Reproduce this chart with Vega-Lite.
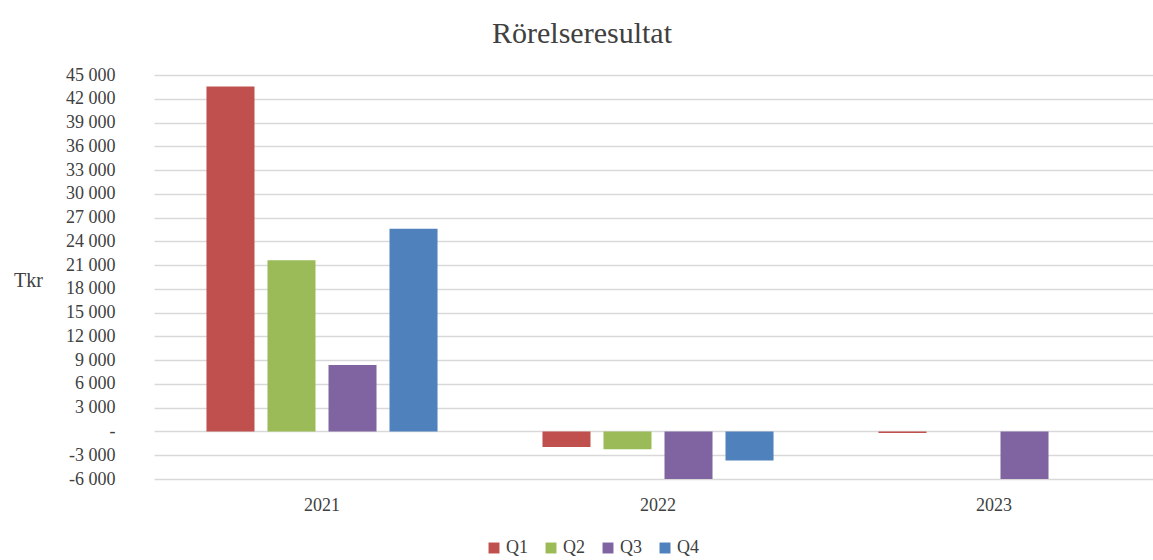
{
  "$schema": "https://vega.github.io/schema/vega-lite/v6.json",
  "autosize": {"type": "none"},
  "padding": {"left": 154, "top": 75, "right": 0, "bottom": 81},
  "width": 1008,
  "height": 404,
  "background": "white",
  "title": {
    "text": "Rörelseresultat",
    "font": "Liberation Serif",
    "fontSize": 30,
    "fontWeight": "normal",
    "color": "#404040",
    "anchor": "middle",
    "dx": -76,
    "dy": 33,
    "baseline": "bottom",
    "offset": 20
  },
  "data": {
    "values": [
      {"year": "2021", "quarter": "Q1", "value": 43550},
      {"year": "2021", "quarter": "Q2", "value": 21600},
      {"year": "2021", "quarter": "Q3", "value": 8400},
      {"year": "2021", "quarter": "Q4", "value": 25600},
      {"year": "2022", "quarter": "Q1", "value": -1950},
      {"year": "2022", "quarter": "Q2", "value": -2250},
      {"year": "2022", "quarter": "Q3", "value": -6000},
      {"year": "2022", "quarter": "Q4", "value": -3650},
      {"year": "2023", "quarter": "Q1", "value": -200},
      {"year": "2023", "quarter": "Q2", "value": 0},
      {"year": "2023", "quarter": "Q3", "value": -6000}
    ]
  },
  "mark": {"type": "bar", "clip": true},
  "encoding": {
    "x": {
      "field": "year",
      "type": "nominal",
      "title": null,
      "scale": {"paddingInner": 0, "paddingOuter": 0},
      "axis": {
        "labelAngle": 0,
        "labelFont": "Liberation Serif",
        "labelFontSize": 18,
        "labelColor": "#404040",
        "labelPadding": 17,
        "ticks": false,
        "domain": false,
        "grid": false
      }
    },
    "xOffset": {
      "field": "quarter",
      "type": "nominal",
      "scale": {"domain": ["Q1", "Q2", "Q3", "Q4"], "paddingInner": 0.213, "paddingOuter": 0.86}
    },
    "y": {
      "field": "value",
      "type": "quantitative",
      "title": "Tkr",
      "scale": {"domain": [-6000, 45000], "nice": false, "zero": false},
      "axis": {
        "values": [-6000, -3000, 0, 3000, 6000, 9000, 12000, 15000, 18000, 21000, 24000, 27000, 30000, 33000, 36000, 39000, 42000, 45000],
        "labelExpr": "datum.value == 0 ? '-' : (datum.value < 0 ? '-' : '') + replace(format(abs(datum.value), ','), regexp(',', 'g'), ' ')",
        "labelFont": "Liberation Serif",
        "labelFontSize": 18,
        "labelColor": "#404040",
        "labelPadding": 39,
        "ticks": false,
        "domain": false,
        "gridColor": "#d9d9d9",
        "gridWidth": 1.5,
        "titleAngle": 0,
        "titleFont": "Liberation Serif",
        "titleFontSize": 20,
        "titleFontWeight": "normal",
        "titleColor": "#404040",
        "titleX": -126,
        "titleY": 205,
        "titleAlign": "center",
        "titleBaseline": "middle"
      }
    },
    "color": {
      "field": "quarter",
      "type": "nominal",
      "title": null,
      "scale": {"domain": ["Q1", "Q2", "Q3", "Q4"], "range": ["#C0504D", "#9BBB59", "#8064A2", "#4F81BD"]},
      "legend": {
        "orient": "none",
        "direction": "horizontal",
        "legendX": 331,
        "legendY": 464,
        "symbolType": "square",
        "symbolSize": 120,
        "symbolStrokeWidth": 0,
        "labelFont": "Liberation Serif",
        "labelFontSize": 18,
        "labelColor": "#404040",
        "labelOffset": 3,
        "columnPadding": 14
      }
    }
  },
  "config": {"view": {"stroke": null}}
}
